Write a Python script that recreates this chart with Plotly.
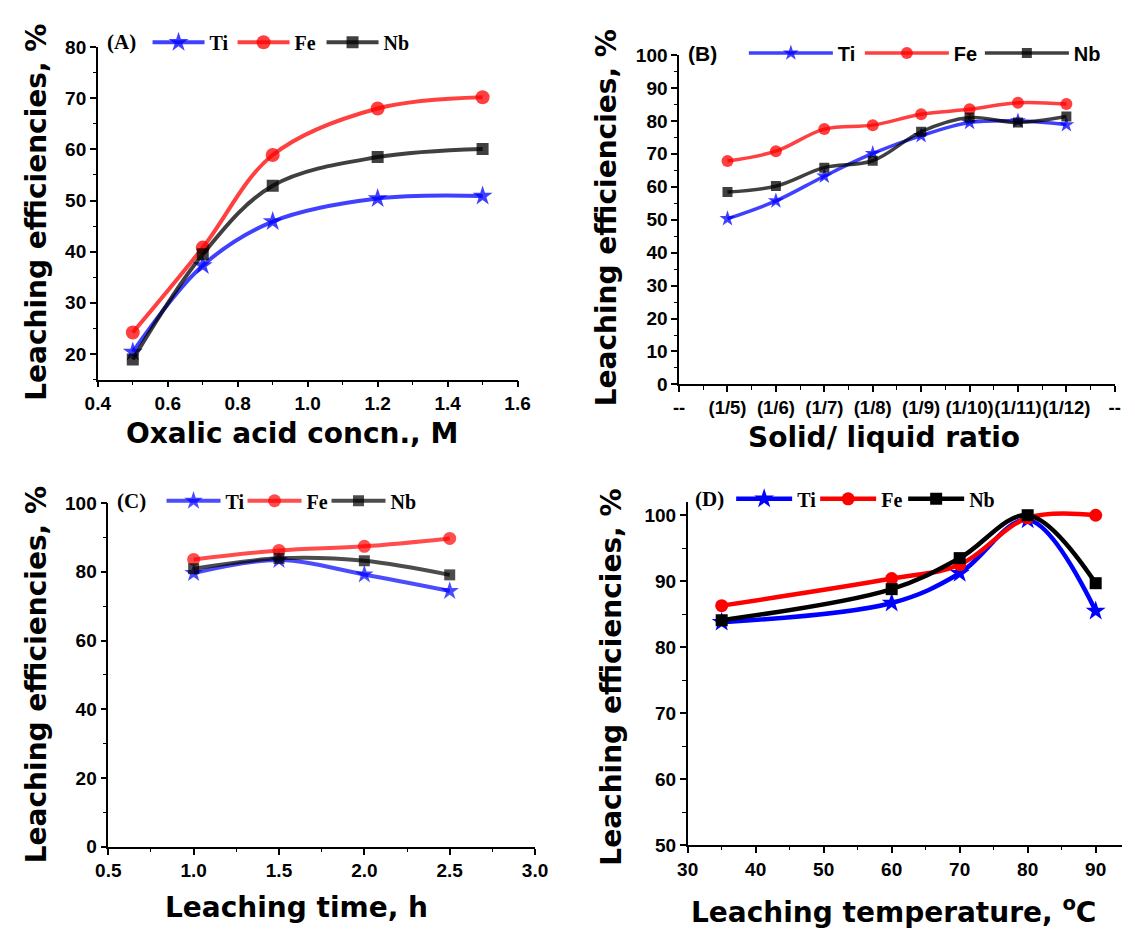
import plotly.graph_objects as go

# ---------------- data ----------------
A_x = [0.5, 0.7, 0.9, 1.2, 1.5]
A_ti = [20.4, 37.3, 45.9, 50.4, 50.9]
A_fe = [24.2, 40.8, 58.9, 68.0, 70.2]
A_nb = [18.9, 39.5, 52.9, 58.5, 60.1]

B_ratio = ["(1/5)", "(1/6)", "(1/7)", "(1/8)", "(1/9)", "(1/10)", "(1/11)", "(1/12)"]
B_ticktext = ["--"] + B_ratio + ["--"]
B_ti = [50.3, 55.7, 63.2, 70.1, 75.5, 79.5, 80.0, 78.8]
B_fe = [67.8, 70.8, 77.5, 78.7, 82.0, 83.5, 85.5, 85.1]
B_nb = [58.4, 60.2, 65.8, 67.9, 76.7, 81.0, 79.5, 81.3]

C_x = [1.0, 1.5, 2.0, 2.5]
C_ti = [79.6, 83.4, 79.2, 74.4]
C_fe = [83.6, 86.2, 87.4, 89.7]
C_nb = [80.9, 83.9, 83.2, 79.1]

D_x = [35, 60, 70, 80, 90]
D_ti = [83.8, 86.7, 91.2, 99.3, 85.5]
D_fe = [86.3, 90.4, 92.5, 99.6, 100.0]
D_nb = [84.1, 88.8, 93.5, 100.0, 89.7]

W, H = 1135, 938

def px(x):
    return x / W

def py(y):
    return 1 - y / H

fig = go.Figure()

SERIF = "Liberation Serif, Times New Roman, serif"
SANS = "Liberation Sans, Arial, sans-serif"
TITLE = "DejaVu Sans, Verdana, sans-serif"


def add_series(xs, ys, name, color, sym, size, lw, xa, ya, legend, alpha, legw):
    col = color.replace(")", ",%s)" % alpha).replace("rgb", "rgba")
    fig.add_trace(go.Scatter(
        x=xs, y=ys, name=name, mode="lines+markers",
        line=dict(color=col, width=lw, shape="spline", smoothing=1.0),
        marker=dict(symbol=sym, size=size, color=col, line=dict(width=0)),
        xaxis=xa, yaxis=ya, legend=legend, legendwidth=legw))

BLUE, RED, BLACK = "rgb(0,0,255)", "rgb(255,0,0)", "rgb(0,0,0)"

# A
add_series(A_x, A_ti, "Ti", BLUE, "star", 15, 4, "x", "y", "legend", 0.75, 18)
add_series(A_x, A_fe, "Fe", RED, "circle", 14, 4, "x", "y", "legend", 0.75, 22)
add_series(A_x, A_nb, "Nb", BLACK, "square", 12, 4, "x", "y", "legend", 0.75, 26)
# B
B_pos = list(range(1, len(B_ratio) + 1))
add_series(B_pos, B_ti, "Ti", BLUE, "star", 12, 3.5, "x2", "y2", "legend2", 0.75, 17)
add_series(B_pos, B_fe, "Fe", RED, "circle", 12, 3.5, "x2", "y2", "legend2", 0.75, 21)
add_series(B_pos, B_nb, "Nb", BLACK, "square", 10, 3.5, "x2", "y2", "legend2", 0.75, 30)
# C
add_series(C_x, C_ti, "Ti", BLUE, "star", 14, 4, "x3", "y3", "legend3", 0.7, 12)
add_series(C_x, C_fe, "Fe", RED, "circle", 13, 4, "x3", "y3", "legend3", 0.7, 15)
add_series(C_x, C_nb, "Nb", BLACK, "square", 11, 4, "x3", "y3", "legend3", 0.7, 26)
# D
add_series(D_x, D_ti, "Ti", BLUE, "star", 15, 4.5, "x4", "y4", "legend4", 1, 13)
add_series(D_x, D_fe, "Fe", RED, "circle", 13, 4.5, "x4", "y4", "legend4", 1, 17)
add_series(D_x, D_nb, "Nb", BLACK, "square", 12, 4.5, "x4", "y4", "legend4", 1, 26)

tickfont = dict(family=SANS, size=19, color="black", weight="bold")

def axis(domain, rng, dtick, mdtick, anchor, **kw):
    d = dict(domain=domain, range=rng, anchor=anchor, showline=True, linecolor="black",
             linewidth=1.5, ticks="outside", ticklen=6, tickwidth=1.5, tickcolor="black",
             showgrid=False, zeroline=False, tickfont=tickfont, tickangle=0,
             minor=dict(ticks="outside", ticklen=3.5, tickwidth=1.2, tickcolor="black",
                        dtick=mdtick, showgrid=False))
    if dtick is not None:
        d["dtick"] = dtick
    d.update(kw)
    return d

layout = dict(
    width=W, height=H, margin=dict(l=0, r=0, t=0, b=0),
    paper_bgcolor="white", plot_bgcolor="white", showlegend=True,
    xaxis=axis([px(86.8), px(516.4)], [0.4, 1.6], 0.2, 0.1, "y", tickformat=".1f"),
    yaxis=axis([py(378), py(38)], [15, 80], 10, 5, "x", tick0=0),
    xaxis2=axis([px(681.7), px(1127.6)], [0, 9], None, 0.5, "y2",
                tickmode="array", tickvals=list(range(len(B_ticktext))), ticktext=B_ticktext,
                tickfont=dict(family=SANS, size=18.5, color="black", weight="bold")),
    yaxis2=axis([py(383), py(46)], [0, 100], 10, 5, "x2"),
    xaxis3=axis([px(97.5), px(534.3)], [0.5, 3.0], 0.5, 0.25, "y3", tickformat=".1f"),
    yaxis3=axis([py(856), py(504.3)], [0, 100], 20, 10, "x3"),
    xaxis4=axis([px(690.5), px(1135)], [30, 93.87], 10, 5, "y4"),
    yaxis4=axis([py(854.3), py(503.3)], [50, 102], 10, 5, "x4"),
)
layout["xaxis2"]["minor"]["tick0"] = 0
layout["xaxis2"]["minor"]["tickmode"] = "linear"

legfont_serif = dict(family=SERIF, size=20, color="black", weight="bold")
legfont_sans = dict(family=SANS, size=20, color="black", weight="bold")

def leg(x, y, font, itemwidth):
    return dict(orientation="h", x=px(x), y=py(y), xanchor="left", yanchor="middle",
                font=font, itemwidth=itemwidth,
                bgcolor="rgba(0,0,0,0)", borderwidth=0, tracegroupgap=0)

layout["legend"] = leg(137.7, 33, legfont_serif, 52)
layout["legend2"] = leg(748, 44, legfont_sans, 84)
layout["legend3"] = leg(152, 502, legfont_serif, 54)
layout["legend4"] = leg(735, 500, legfont_serif, 56)

fig.update_layout(**layout)

ann = []
def text(x, y, s, font, angle=0):
    ann.append(dict(x=px(x), y=py(y), xref="paper", yref="paper", text=s, showarrow=False,
                    xanchor="center", yanchor="middle", textangle=angle, font=font))

titlefont = dict(family=TITLE, size=28, color="black", weight="bold")
text(286, 433, "Oxalic acid concn., M", titlefont)
text(24, 207, "Leaching efficiencies, %", titlefont, -90)
text(891, 437, "Solid/ liquid ratio", titlefont)
text(607, 213, "Leaching efficiencies, %", titlefont, -90)
text(290, 918, "Leaching time, h", titlefont)
text(24, 680, "Leaching efficiencies, %", titlefont, -90)
text(901, 921, "Leaching temperature, <sup>o</sup>C", titlefont)
text(613, 682, "Leaching efficiencies, %", titlefont, -90)

labfont_serif = dict(family=SERIF, size=21, color="black", weight="bold")
labfont_sans = dict(family=SANS, size=21, color="black", weight="bold")
text(111, 33, "(A)", labfont_serif)
text(706, 44, "(B)", labfont_sans)
text(121.5, 502, "(C)", labfont_serif)
text(712.5, 500, "(D)", labfont_serif)

fig.update_layout(annotations=ann)
fig.write_html("out.html")
